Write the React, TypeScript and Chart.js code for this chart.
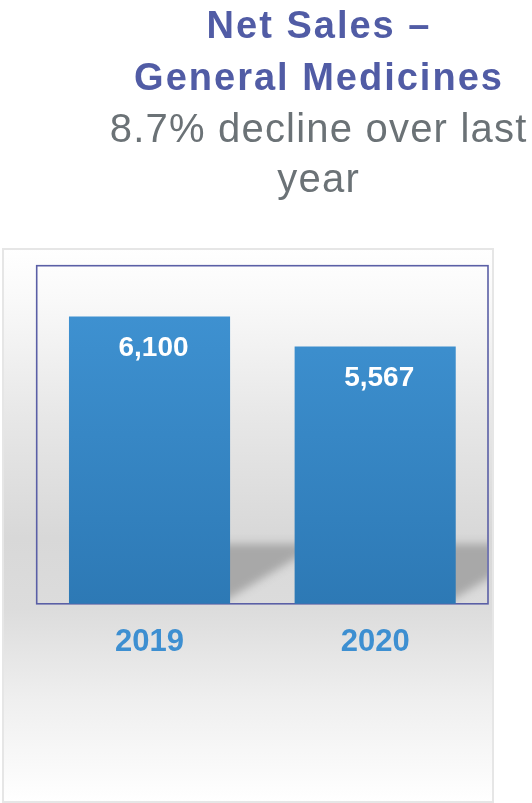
import React, { useEffect, useRef } from "react";
import { Chart, registerables } from "chart.js";

Chart.register(...registerables);

const categories = ["2019", "2020"];
const netSales = [6100, 5567];
const titleLines = ["Net Sales –", "General Medicines"];
const subtitleLines = ["8.7% decline over last", "year"];
const yMin = 1000;
const yMax = 7000;

const FONT = '"Liberation Sans", Arial, Helvetica, sans-serif';

export default function App() {
  const ref = useRef<HTMLCanvasElement>(null);

  useEffect(() => {
    const canvas = ref.current;
    if (!canvas) return;

    const decorPlugin = {
      id: "decor",
      beforeDraw(chart: any) {
        const ctx = chart.ctx as CanvasRenderingContext2D;
        ctx.save();
        // panel background
        const g = ctx.createLinearGradient(0, 248, 0, 802);
        g.addColorStop(0, "#ffffff");
        g.addColorStop(0.094, "#f9f9f9");
        g.addColorStop(0.307, "#e7e7e7");
        g.addColorStop(0.523, "#d8d8d8");
        g.addColorStop(0.65, "#dcdcdc");
        g.addColorStop(0.816, "#efefef");
        g.addColorStop(1, "#ffffff");
        ctx.fillStyle = g;
        ctx.fillRect(3, 249, 490, 553);
        ctx.strokeStyle = "#e6e6e6";
        ctx.lineWidth = 2;
        ctx.strokeRect(3, 249, 490, 553);

        // titles
        const cx = 318;
        ctx.textAlign = "center";
        ctx.textBaseline = "alphabetic";
        ctx.fillStyle = "#515ca5";
        ctx.font = `bold 38px ${FONT}`;
        (ctx as any).letterSpacing = "2px";
        const titleBase = [38, 90];
        titleLines.forEach((t, i) => ctx.fillText(t, cx + 1, titleBase[i]));
        ctx.fillStyle = "#6b7276";
        ctx.font = `40px ${FONT}`;
        (ctx as any).letterSpacing = "1.2px";
        const subBase = [142, 192];
        subtitleLines.forEach((t, i) => ctx.fillText(t, cx + 0.6, subBase[i]));
        (ctx as any).letterSpacing = "0px";
        ctx.restore();
      },
      beforeDatasetsDraw(chart: any) {
        const ctx = chart.ctx as CanvasRenderingContext2D;
        const ca = chart.chartArea;
        ctx.save();
        // plot frame
        ctx.strokeStyle = "#5a5fa6";
        ctx.lineWidth = 1.6;
        ctx.strokeRect(ca.left, ca.top, ca.right - ca.left, ca.bottom - ca.top);
        // reflection shadows to the right of each bar
        ctx.beginPath();
        ctx.rect(ca.left + 1, ca.top + 1, ca.right - ca.left - 2, ca.bottom - ca.top - 2);
        ctx.clip();
        const off = 2000;
        ctx.shadowColor = "#a8a8a8";
        ctx.shadowBlur = 9;
        ctx.shadowOffsetX = off;
        ctx.shadowOffsetY = 0;
        ctx.fillStyle = "#a8a8a8";
        const base = ca.bottom;
        const meta = chart.getDatasetMeta(0);
        meta.data.forEach((bar: any) => {
          const right = bar.x + bar.width / 2;
          ctx.beginPath();
          ctx.moveTo(right - 20 - off, base - 60);
          ctx.lineTo(right + 90 - off, base - 60);
          ctx.lineTo(right - 20 - off, base + 6);
          ctx.closePath();
          ctx.fill();
        });
        ctx.restore();
      },
      afterDatasetsDraw(chart: any) {
        const ctx = chart.ctx as CanvasRenderingContext2D;
        ctx.save();
        ctx.fillStyle = "#ffffff";
        ctx.font = `bold 28px ${FONT}`;
        ctx.textAlign = "center";
        ctx.textBaseline = "alphabetic";
        const meta = chart.getDatasetMeta(0);
        meta.data.forEach((bar: any, i: number) => {
          ctx.fillText(netSales[i].toLocaleString("en-US"), bar.x + 4, bar.y + 40);
        });
        ctx.restore();
      },
    };

    const chart = new Chart(canvas, {
      type: "bar",
      data: {
        labels: categories,
        datasets: [
          {
            data: netSales,
            backgroundColor: (c: any) => {
              const ch = c.chart;
              const ca = ch.chartArea;
              if (!ca) return "#3888c8";
              const g = ch.ctx.createLinearGradient(0, ca.top, 0, ca.bottom);
              g.addColorStop(0, "#4195d5");
              g.addColorStop(1, "#2d79b5");
              return g;
            },
            borderWidth: 0,
            barPercentage: 0.714,
            categoryPercentage: 1,
          },
        ],
      },
      options: {
        animation: false,
        responsive: false,
        maintainAspectRatio: false,
        layout: { padding: { top: 265.7, left: 36.7, right: 44, bottom: 122 } },
        plugins: {
          legend: { display: false },
          tooltip: { enabled: false },
          title: { display: false },
        },
        scales: {
          x: {
            grid: { display: false, drawTicks: false },
            border: { display: false },
            ticks: {
              color: "#3d8fd1",
              font: { family: FONT, size: 31, weight: "bold" },
              padding: 20,
            },
          },
          y: { display: false, min: yMin, max: yMax },
        },
      },
      plugins: [decorPlugin],
    });

    return () => chart.destroy();
  }, []);

  return (
    <div style={{ position: "absolute", left: 0, top: 0, width: 532, height: 803, background: "#ffffff" }}>
      <canvas ref={ref} width={532} height={803} style={{ display: "block", width: 532, height: 803 }} />
    </div>
  );
}
